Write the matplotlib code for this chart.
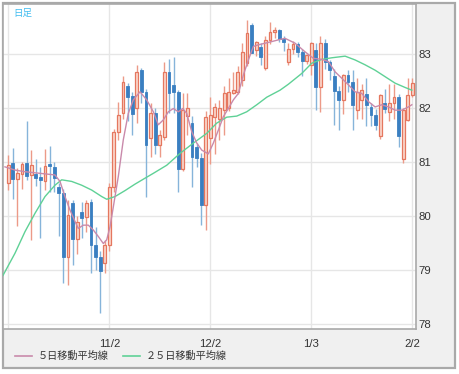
import matplotlib
matplotlib.use("Agg")
import matplotlib.pyplot as plt
from matplotlib.patches import Rectangle
from matplotlib.lines import Line2D

# ---- data ----
opens = [80.62, 80.99, 80.68, 80.78, 80.98, 80.76, 80.77, 80.73, 80.65, 80.97,
         80.91, 80.54, 80.42, 79.24, 80.24, 79.57, 80.08, 79.98, 80.26, 79.46,
         79.24, 79.13, 79.46, 80.54, 81.56, 81.90, 82.40, 82.22, 82.00, 82.70,
         82.30, 81.44, 81.91, 81.31, 81.46, 82.67, 82.42, 82.30, 80.87, 81.85,
         81.72, 81.28, 81.07, 80.20, 81.44, 81.83, 81.80, 81.96, 82.00, 82.28,
         82.30, 82.52, 82.83, 83.54, 83.07, 83.13, 82.74, 83.26, 83.41, 83.44,
         83.28, 82.85, 83.09, 83.19, 83.04, 82.87, 82.80, 83.07, 82.39, 83.20,
         82.85, 82.59, 82.31, 82.15, 82.61, 82.48, 81.96, 82.15, 82.25, 82.02,
         81.87, 81.48, 82.09, 81.93, 82.09, 82.20, 81.06, 81.78, 82.24]
highs = [81.13, 81.25, 80.89, 81.00, 81.76, 81.22, 81.05, 80.90, 81.24, 81.30,
         81.00, 80.62, 80.50, 80.30, 80.30, 80.00, 80.25, 80.30, 80.32, 79.80,
         79.35, 79.55, 80.62, 81.62, 82.12, 82.59, 82.46, 82.30, 82.80, 82.74,
         82.35, 82.10, 82.00, 81.60, 82.85, 82.90, 82.94, 82.33, 82.28, 82.28,
         81.85, 81.35, 81.16, 81.95, 82.20, 82.10, 82.14, 82.40, 82.55, 82.66,
         82.78, 83.20, 83.63, 83.57, 83.25, 83.20, 83.33, 83.60, 83.50, 83.47,
         83.33, 83.20, 83.25, 83.23, 83.10, 83.00, 83.22, 83.20, 83.33, 83.28,
         82.88, 82.72, 82.40, 82.63, 82.70, 82.70, 82.56, 82.45, 82.56, 82.10,
         81.98, 82.26, 82.35, 82.45, 82.45, 82.25, 82.00, 82.56, 82.56]
lows = [80.48, 80.31, 79.81, 80.50, 80.67, 79.55, 80.55, 79.60, 80.48, 80.45,
        80.45, 79.63, 78.76, 78.72, 79.10, 79.30, 79.60, 79.70, 78.94, 79.00,
        78.20, 78.95, 79.35, 80.45, 81.40, 81.80, 81.75, 81.50, 81.72, 82.10,
        80.35, 81.10, 81.15, 81.10, 81.40, 81.90, 81.90, 80.44, 80.83, 81.50,
        80.54, 80.90, 79.83, 79.74, 80.96, 81.15, 81.40, 81.50, 81.95, 82.25,
        82.25, 82.40, 82.78, 83.02, 82.97, 82.80, 82.70, 83.18, 83.30, 83.22,
        83.05, 82.80, 83.00, 82.95, 82.60, 82.82, 82.62, 81.96, 81.93, 82.72,
        82.52, 81.69, 81.60, 81.88, 82.30, 81.60, 81.80, 81.80, 81.67, 81.67,
        81.60, 81.42, 81.90, 81.75, 81.80, 81.28, 80.98, 81.75, 82.20]
closes = [80.94, 80.68, 80.80, 80.96, 80.74, 80.94, 80.71, 80.66, 80.93, 80.92,
          80.70, 80.42, 79.24, 80.02, 79.57, 79.89, 79.96, 80.24, 79.46, 79.24,
          78.98, 79.46, 80.54, 81.56, 81.87, 82.49, 82.20, 81.88, 82.67, 82.30,
          81.31, 81.91, 81.31, 81.50, 82.67, 82.28, 82.30, 80.87, 81.96, 82.00,
          81.09, 81.07, 80.20, 81.83, 81.87, 82.02, 82.00, 82.28, 82.30, 82.33,
          82.67, 83.04, 83.39, 83.02, 83.22, 82.94, 83.26, 83.41, 83.44, 83.28,
          83.22, 83.09, 83.19, 83.04, 82.87, 82.98, 83.20, 82.39, 83.20, 82.85,
          82.70, 82.31, 82.15, 82.61, 82.48, 82.06, 82.30, 82.33, 82.05, 81.87,
          81.69, 82.24, 81.98, 82.09, 82.20, 81.48, 81.96, 82.24, 82.46]

ma5_x = [-0.72, 1.46, 3.64, 5.82, 8.0, 10.17, 11.26, 12.35, 13.44, 14.53, 15.25,
         16.34, 17.43, 18.52, 19.61, 20.70, 21.44, 22.16, 22.88, 23.96, 25.05,
         26.14, 27.23, 28.69, 30.15, 31.59, 32.68, 33.77, 34.86, 35.95, 37.04,
         37.99, 38.87, 39.96, 41.05, 42.14, 43.57, 44.66, 45.75, 46.84, 47.93,
         49.02, 50.11, 51.20, 52.29, 53.38, 54.47, 55.93, 57.39, 59.19, 60.28,
         62.46, 64.64, 66.45, 68.28, 69.72, 71.18, 72.64, 74.07, 75.53, 76.99,
         78.43, 79.89, 81.35, 82.79, 84.25, 85.71, 87.15, 87.89]
ma5_y = [80.91, 80.85, 80.82, 80.80, 80.78, 80.76, 80.64, 80.36, 80.11, 79.90, 79.77,
         79.83, 79.83, 79.74, 79.62, 79.49, 79.56, 79.80, 80.17, 80.73, 81.41,
         81.90, 82.15, 82.30, 82.15, 81.93, 81.69, 81.78, 81.93, 81.99, 81.93,
         81.99, 81.90, 81.56, 81.35, 81.22, 81.15, 81.35, 81.59, 81.84, 81.99,
         82.15, 82.27, 82.61, 82.89, 83.14, 83.17, 83.20, 83.23, 83.27, 83.29,
         83.20, 83.04, 82.92, 82.90, 82.86, 82.67, 82.55, 82.43, 82.30, 82.27,
         82.12, 82.02, 82.06, 82.02, 81.96, 81.96, 82.02, 82.06]

ma25_x = [-1.15, 1.46, 3.64, 5.82, 8.0, 10.17, 11.63, 13.81, 15.99, 18.17, 20.35,
          21.44, 23.25, 25.42, 27.60, 29.78, 31.59, 34.51, 37.41, 40.31, 43.22,
          45.40, 47.58, 49.76, 51.94, 54.12, 56.30, 59.19, 61.00, 63.92, 66.10,
          68.28, 70.46, 73.36, 75.53, 77.71, 79.89, 82.07, 84.25, 86.43, 87.89]
ma25_y = [78.90, 79.31, 79.71, 80.05, 80.36, 80.57, 80.67, 80.64, 80.57, 80.48, 80.36,
          80.31, 80.36, 80.47, 80.59, 80.70, 80.79, 80.94, 81.16, 81.35, 81.53,
          81.72, 81.83, 81.85, 81.93, 82.06, 82.20, 82.33, 82.44, 82.64, 82.83,
          82.90, 82.93, 82.96, 82.89, 82.80, 82.70, 82.58, 82.46, 82.38, 82.33]

tick_pos = [0, 22, 44, 66, 88]
tick_labels = ["", "11/2", "12/2", "1/3", "2/2"]
y_ticks = [78, 79, 80, 81, 82, 83]
legend_labels = ["５日移動平均線", "２５日移動平均線"]

# ---- styling ----
W, H = 459, 374
fig = plt.figure(figsize=(W / 100, H / 100), dpi=100)
fig.patch.set_facecolor("white")

def fx(px):
    return px / W

def fy(py):
    return 1 - py / H

# outer gray panel with frame
fig.patches.append(Rectangle((fx(3), fy(368)), fx(452), (365) / H,
                             transform=fig.transFigure, facecolor="#f0f0f0",
                             edgecolor="#a9a9a9", linewidth=1.6, zorder=0))

ax = fig.add_axes([fx(3), fy(329), fx(413), 325 / H])
ax.set_facecolor("white")
ax.set_zorder(1)

up_edge = "#e5775f"
up_fill = "#fad6cb"
dn_body = "#3a7fc1"
dn_wick = "#86b4da"
up_wick = "#ec9a88"

for i, (o, h, l, c) in enumerate(zip(opens, highs, lows, closes)):
    up = c >= o
    ax.vlines(i, l, h, color=up_wick if up else dn_wick, linewidth=1.0, zorder=2)
    if up:
        ax.bar(i, c - o, bottom=o, width=0.62, facecolor=up_fill,
               edgecolor=up_edge, linewidth=0.9, zorder=3)
    else:
        ax.bar(i, o - c, bottom=c, width=0.62, facecolor=dn_body,
               edgecolor=dn_body, linewidth=0.6, zorder=3)

ax.plot(ma25_x, ma25_y, color="#5fd196", linewidth=1.0, zorder=4)
ax.plot(ma5_x, ma5_y, color="#c98aab", linewidth=1.0, zorder=4)

ax.set_xlim(-1.15, 88.8)
ax.set_ylim(77.907, 83.926)

ax.set_xticks(tick_pos)
ax.set_xticklabels(tick_labels)
ax.set_yticks(y_ticks)
ax.yaxis.tick_right()
ax.tick_params(axis="both", length=0, labelsize=8.2, colors="#333333",
               labelfontfamily="Liberation Sans")
ax.tick_params(axis="x", pad=7)
ax.tick_params(axis="y", pad=2)
ax.grid(True, color="#e6e6e6", linewidth=1.0, zorder=0)
ax.set_axisbelow(True)
for s in ax.spines.values():
    s.set_color("#a9a9a9")
    s.set_linewidth(1.2)

cjk = ["Noto Sans CJK JP", "DejaVu Sans"]
fig.text(fx(13), fy(13), "日足", color="#3fbcf0", fontsize=6.8,
         family=cjk, va="center", ha="left", zorder=5)

# legend
ly = fy(356)
fig.lines.append(Line2D([fx(15), fx(32)], [ly, ly], color="#c98aab",
                        linewidth=1.2, transform=fig.transFigure))
fig.text(fx(38), ly, legend_labels[0], fontsize=7.3, family=cjk,
         color="#333333", va="center", ha="left")
fig.lines.append(Line2D([fx(123), fx(140)], [ly, ly], color="#5fd196",
                        linewidth=1.2, transform=fig.transFigure))
fig.text(fx(146), ly, legend_labels[1], fontsize=7.3, family=cjk,
         color="#333333", va="center", ha="left")

fig.savefig("out.png", dpi=100)
